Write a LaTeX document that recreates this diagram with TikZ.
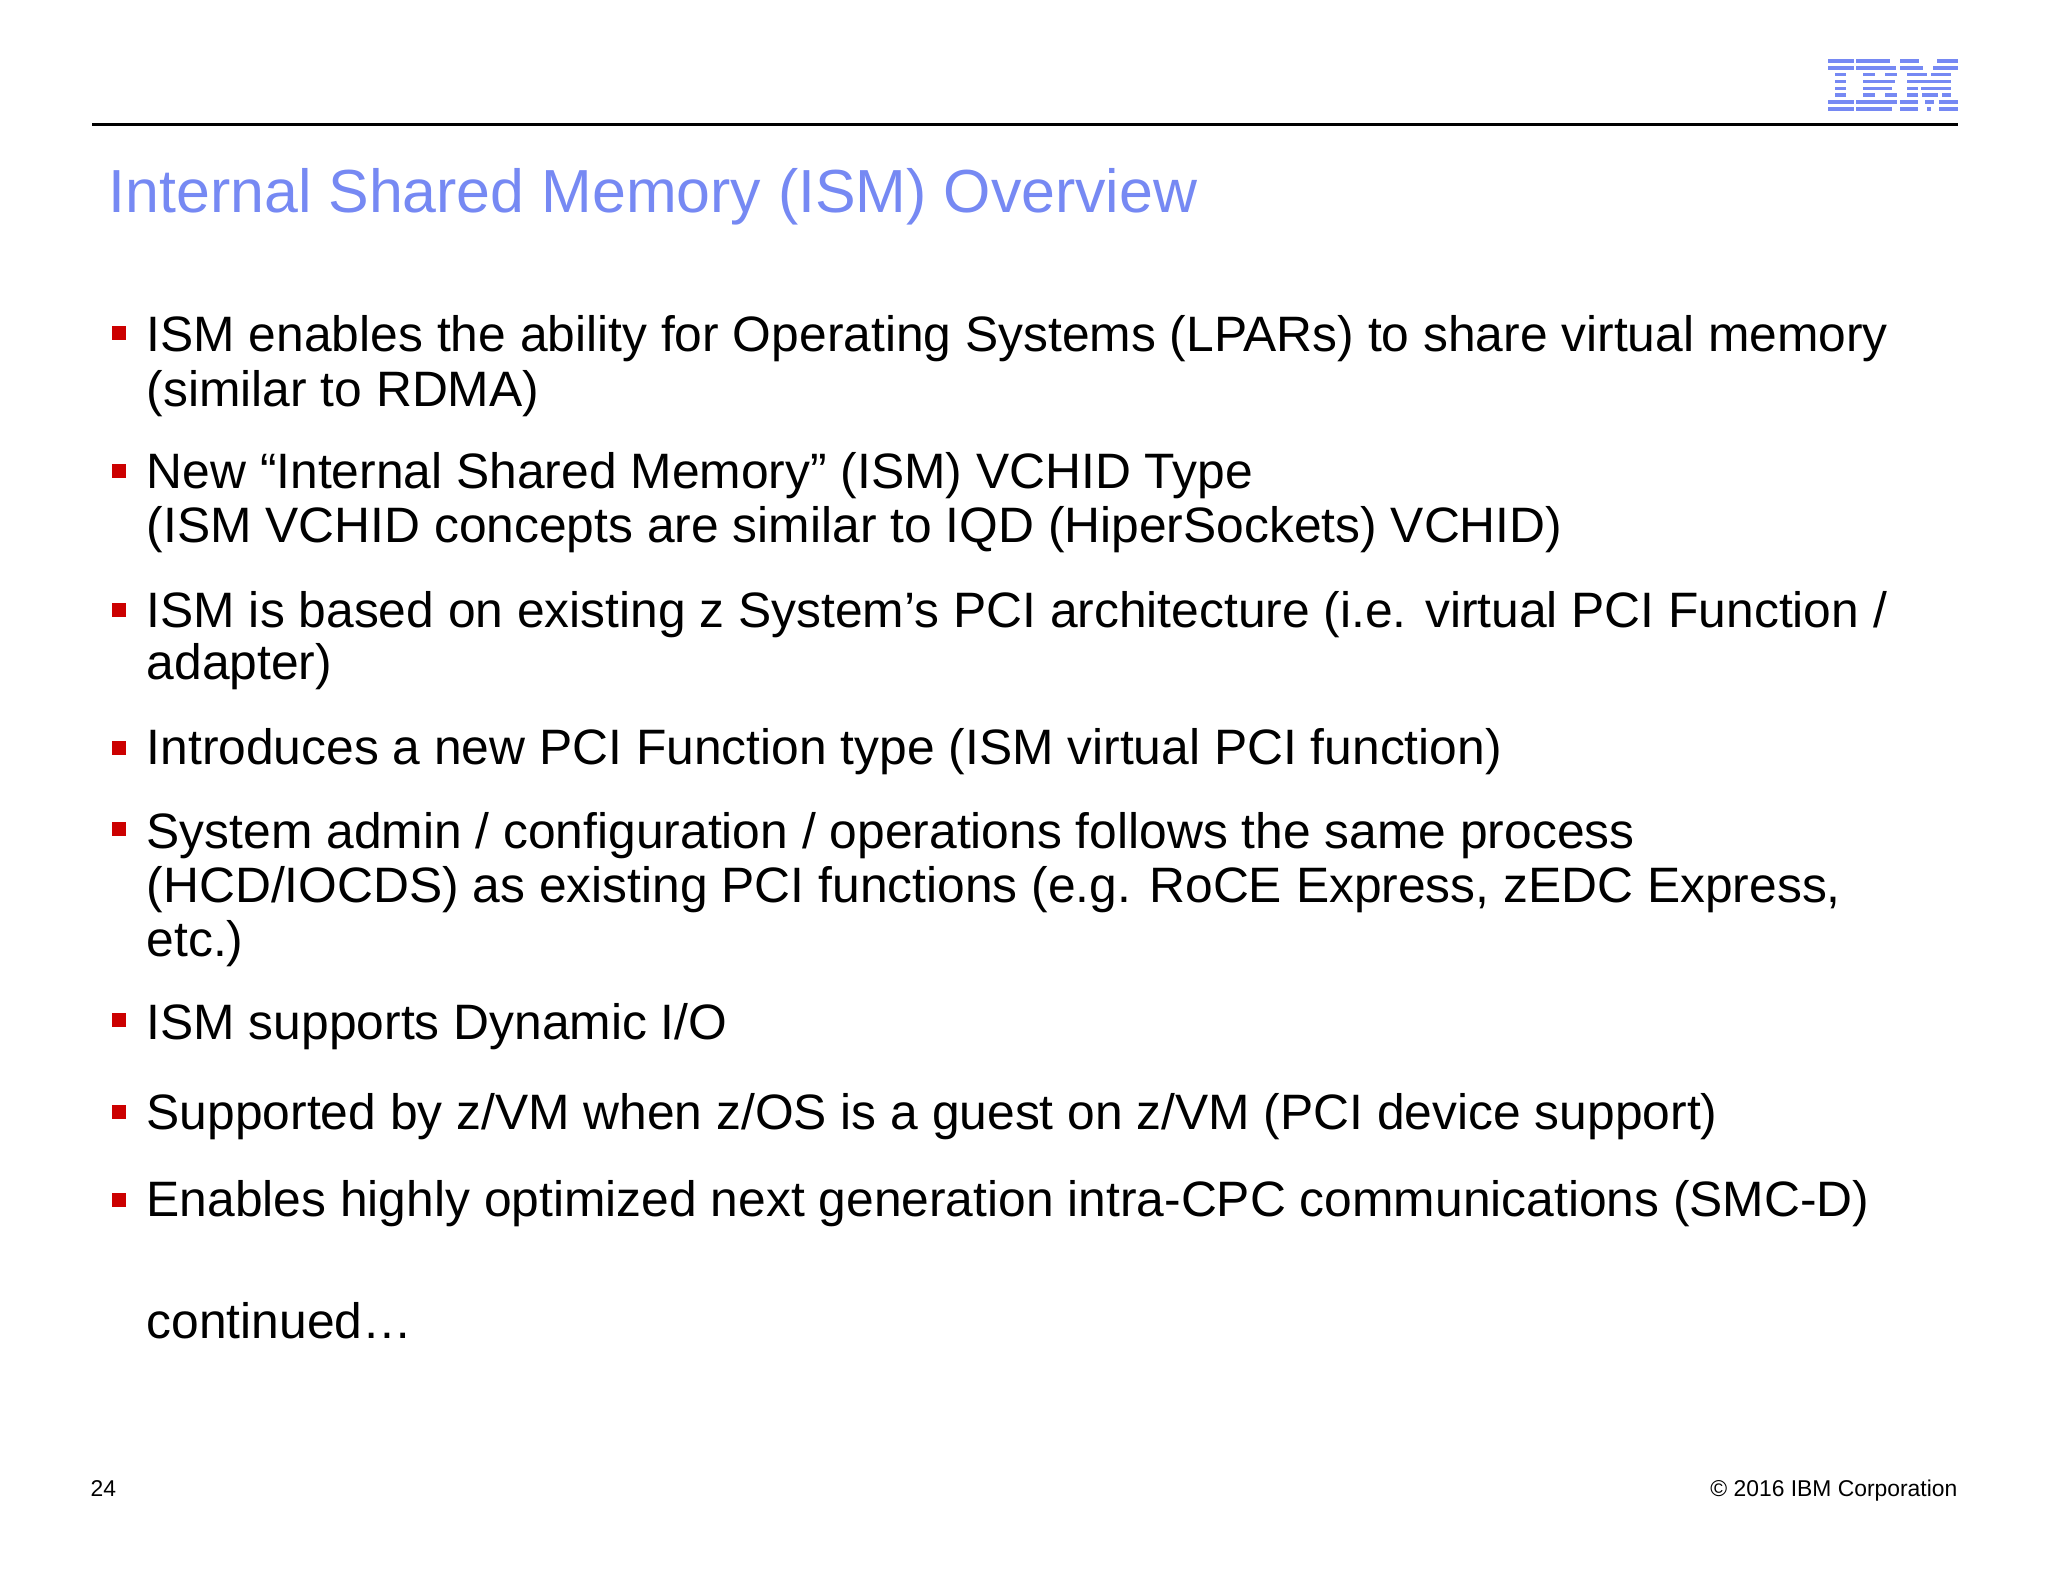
\documentclass[tikz,border=0pt]{standalone}
\usepackage{fontspec}
\setmainfont{Liberation Sans}
\usetikzlibrary{positioning}
\definecolor{titleblue}{RGB}{118,137,243}
\definecolor{bulletred}{RGB}{204,0,0}
\tikzset{
  bodytext/.style={anchor=base west, inner sep=0pt, align=left, font=\fontsize{14.15pt}{15.65pt}\selectfont},
  bulletbox/.style={fill=bulletred, inner sep=0pt, minimum size=0.145cm},
  stripe/.style={fill=titleblue, draw=none},
}
\begin{document}
\begin{tikzpicture}[x=0.01cm, y=-0.01cm]
  \useasboundingbox (0,0) rectangle (2048,1582);
  % Header
  \coordinate (ruleL) at (92,125);
  \coordinate (ruleR) at (1958,125);
  \draw[line width=0.03cm] (ruleL) -- (ruleR);
  \node (title) [anchor=base west, inner sep=0pt, text=titleblue, font=\fontsize{17.3pt}{20pt}\selectfont] at (108,212.5) {Internal Shared Memory (ISM) Overview};
  % Logo
  \foreach \row/\segs in {0/{1828/1854,1856/1890,1900/1919,1937/1958}, 1/{1828/1854,1856/1896,1900/1923,1933/1958},
      2/{1835/1846,1863/1875,1885/1897,1907/1927,1931/1951}, 3/{1835/1846,1863/1895,1907/1951},
      4/{1835/1846,1863/1892,1907/1918,1921/1951}, 5/{1835/1846,1863/1875,1885/1897,1907/1918,1922/1938,1942/1951},
      6/{1828/1854,1856/1897,1900/1918,1925/1934,1939/1958}, 7/{1828/1854,1856/1892,1900/1918,1927/1931,1939/1958}}
    \foreach \segA/\segB in \segs
      \fill[stripe] (\segA,59+6.9*\row) rectangle (\segB,62.7+6.9*\row);
  % Bullets
  \node (lineA) [bodytext] at (146,406.5) {ISM enables the ability for Operating Systems (LPARs) to share virtual memory\\(similar to RDMA)};
  \node (lineB) [bodytext] at (146,542.3) {New “Internal Shared Memory” (ISM) VCHID Type\\[-0.4pt](ISM VCHID concepts are similar to IQD (HiperSockets) VCHID)};
  \node (lineC) [bodytext] at (146,679) {ISM is based on existing z System’s PCI architecture (i.e. virtual PCI Function /\\[-1pt]adapter)};
  \node (lineD) [bodytext] at (146,764.3) {Introduces a new PCI Function type (ISM virtual PCI function)};
  \node (lineE) [bodytext] at (146,956) {System admin / configuration / operations follows the same process\\[-0.4pt](HCD/IOCDS) as existing PCI functions (e.g. RoCE Express, zEDC Express,\\[-0.4pt]etc.)};
  \node (lineF) [bodytext] at (146,1039.5) {ISM supports Dynamic I/O};
  \node (lineG) [bodytext] at (146,1129.3) {Supported by z/VM when z/OS is a guest on z/VM (PCI device support)};
  \node (lineH) [bodytext] at (146,1216.5) {Enables highly optimized next generation intra-CPC communications (SMC-D)};
  \node (more) [bodytext] at (146,1338.3) {continued…};
  \foreach \name/\ypos in {lineA/333,lineB/471,lineC/610,lineD/748,lineE/829,lineF/1020,lineG/1112,lineH/1200}
    \node (mark\name) [bulletbox] at (119,\ypos) {};
  % Footer
  \node (pageno) [anchor=base west, inner sep=0pt, font=\fontsize{6.5pt}{8pt}\selectfont] at (90,1496) {24};
  \node (copyright) [anchor=base east, inner sep=0pt, font=\fontsize{6.5pt}{8pt}\selectfont] at (1958,1496) {© 2016 IBM Corporation};
\end{tikzpicture}
\end{document}
